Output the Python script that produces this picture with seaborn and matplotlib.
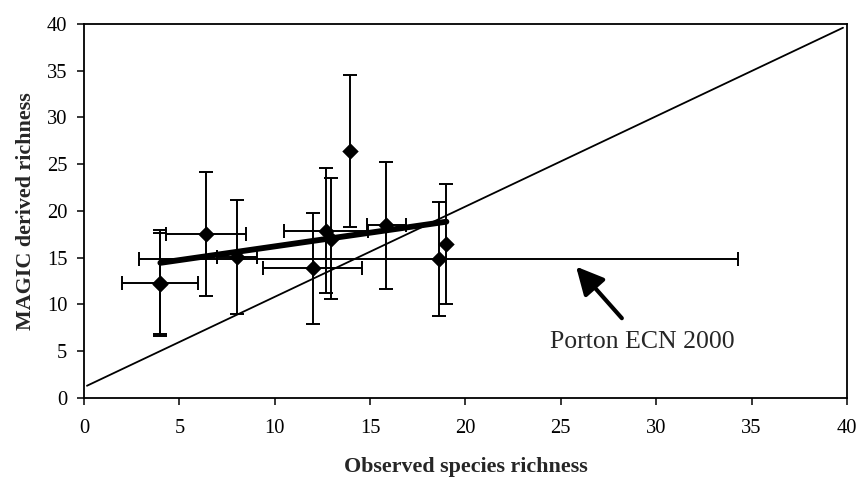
import numpy as np
import pandas as pd
import matplotlib
matplotlib.use("Agg")
import matplotlib.pyplot as plt
import seaborn as sns

# Observed vs MAGIC-derived species richness per site
observed = [4.0, 4.0, 6.4, 8.0, 12.0, 12.7, 12.95, 13.95, 15.85, 18.6, 19.0]
magic = [12.3, 12.2, 17.55, 15.05, 13.85, 17.9, 17.05, 26.4, 18.45, 14.9, 16.5]
observed_err = [2.0, 0.0, 2.1, 1.05, 2.6, 2.2, 0.0, 0.0, 1.03, 15.7, 0.0]
magic_err = [5.65, 5.4, 6.65, 6.1, 5.9, 6.7, 6.5, 8.1, 6.8, 6.1, 6.4]

# Linear trend through the sites and the reference line
trend_x = [4.0, 19.0]
trend_y = [14.45, 18.85]
ref_x = [0.15, 39.8]
ref_y = [1.3, 39.6]

x_ticks = [0, 5, 10, 15, 20, 25, 30, 35, 40]
y_ticks = [0, 5, 10, 15, 20, 25, 30, 35, 40]

sns.set_theme(style="white")
plt.rcParams["font.family"] = ["Liberation Serif", "DejaVu Serif"]

fig = plt.figure(figsize=(8.58, 4.8), dpi=100)
ax = fig.add_axes([0.098, 0.171, 0.889, 0.779])

df = pd.DataFrame({"observed": observed, "magic": magic})

sns.lineplot(x=ref_x, y=ref_y, ax=ax, color="black", lw=1.3, zorder=2)

for xv, yv, xe, ye in zip(observed, magic, observed_err, magic_err):
    ax.errorbar(xv, yv, xerr=xe if xe > 0 else None, yerr=ye, fmt="none",
                ecolor="black", elinewidth=1.4, capsize=5, capthick=1.4, zorder=3)

sns.scatterplot(data=df, x="observed", y="magic", ax=ax, marker="D", s=70,
                color="black", edgecolor="black", linewidth=0, zorder=4)

sns.lineplot(x=trend_x, y=trend_y, ax=ax, color="black", lw=4.2,
             solid_capstyle="round", zorder=5)

ax.annotate("Porton ECN 2000", xy=(25.8, 14.05), xytext=(29.3, 6.0),
            ha="center", va="center", fontsize=18.5,
            arrowprops=dict(arrowstyle="-|>,head_length=0.9,head_width=0.45",
                            color="black", lw=3.0, shrinkB=0, shrinkA=9))

ax.set_xlim(0, 40)
ax.set_ylim(0, 40)
ax.set_xticks(x_ticks)
ax.set_yticks(y_ticks)
ax.tick_params(axis="both", direction="out", length=5, width=1.1,
               colors="black", labelsize=14.8, bottom=True, left=True)
ax.tick_params(axis="x", pad=10.5)
ax.tick_params(axis="y", pad=7)
for s in ax.spines.values():
    s.set_color("black")
    s.set_linewidth(1.3)

ax.set_xlabel("Observed species richness", fontsize=15.8, fontweight="bold", labelpad=13)
ax.set_ylabel("MAGIC derived richness", fontsize=15.8, fontweight="bold", labelpad=8)

fig.savefig("out.png", dpi=100, facecolor="white")
